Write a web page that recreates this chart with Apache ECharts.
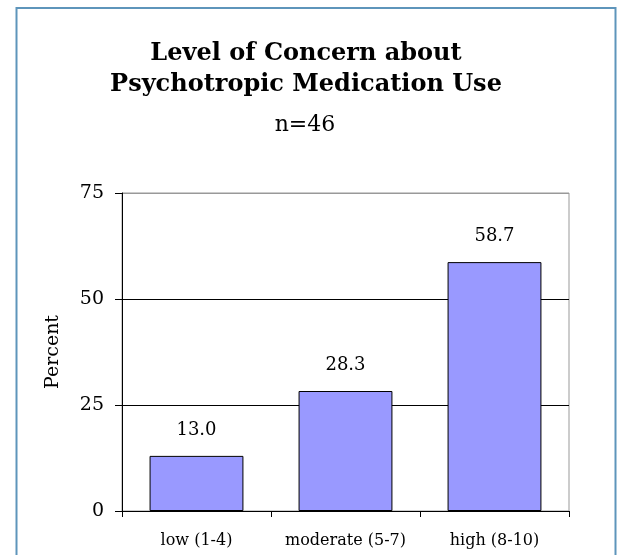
<!DOCTYPE html>
<html><head><meta charset="utf-8">
<script src="https://cdn.jsdelivr.net/npm/echarts@6/dist/echarts.min.js"></script>
<style>html,body{margin:0;padding:0;background:#fff}#c{width:618px;height:555px}</style>
</head><body><div id="c"></div>
<script>
const categories = ['low (1-4)', 'moderate (5-7)', 'high (8-10)'];
const percentValues = [13.0, 28.3, 58.7];
const yTicks = [0, 25, 50, 75];
const titleLines = ['Level of Concern about', 'Psychotropic Medication Use'];
const subtitle = 'n=46';

const FONT = '"DejaVu Serif", "Liberation Serif", serif';
const chart = echarts.init(document.getElementById('c'), null, {renderer: 'canvas'});
chart.setOption({
  animation: false,
  backgroundColor: '#fff',
  graphic: [
    {type: 'rect', shape: {x: 16.5, y: 8, width: 599, height: 570}, style: {fill: 'none', stroke: '#5e95bb', lineWidth: 2}, z: 0}
  ],
  title: [
    {text: titleLines.join('\n'), left: 301, top: 33, textAlign: 'center',
     textStyle: {fontFamily: FONT, fontWeight: 'bold', fontSize: 24, color: '#000', lineHeight: 31}},
    {text: subtitle, left: 300, top: 107, textAlign: 'center',
     textStyle: {fontFamily: FONT, fontWeight: 'normal', fontSize: 22, color: '#000', lineHeight: 26}}
  ],
  grid: {left: 122, top: 193, right: 49, bottom: 44, show: true, borderColor: '#999', borderWidth: 1, backgroundColor: 'transparent'},
  xAxis: {
    type: 'category', data: categories, boundaryGap: true,
    axisLine: {lineStyle: {color: '#000', width: 1}},
    axisTick: {show: true, length: 6, interval: 0, lineStyle: {color: '#000'}, alignWithLabel: false},
    axisLabel: {fontFamily: FONT, fontSize: 16, color: '#000', margin: 22, interval: 0, hideOverlap: false}
  },
  yAxis: {
    type: 'value', min: 0, max: 75, interval: 25,
    name: 'Percent', nameLocation: 'middle', nameGap: 59, nameRotate: 90,
    nameTextStyle: {fontFamily: FONT, fontSize: 19, color: '#000'},
    axisLine: {show: true, lineStyle: {color: '#000'}},
    axisTick: {show: true, length: 7, lineStyle: {color: '#000'}},
    axisLabel: {fontFamily: FONT, fontSize: 19, color: '#000', margin: 18,
      formatter: v => yTicks.includes(v) ? String(v) : ''},
    splitLine: {show: true, lineStyle: {color: ['#000', '#000', '#000', '#999'], width: 1}}
  },
  series: [{
    type: 'bar', data: percentValues, barCategoryGap: '37%',
    itemStyle: {color: '#9999ff', borderColor: '#000', borderWidth: 1},
    label: {show: true, position: 'top', distance: 17, fontFamily: FONT, fontSize: 18, color: '#000',
      formatter: p => p.value.toFixed(1)}
  }]
});
</script></body></html>
